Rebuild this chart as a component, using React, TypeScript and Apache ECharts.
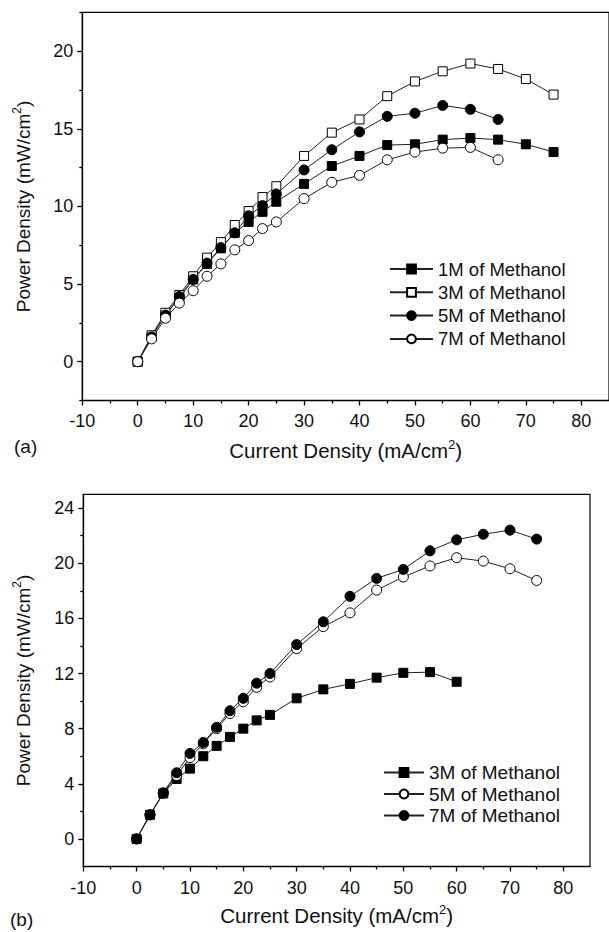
import React, { useEffect, useRef } from "react";
import * as echarts from "echarts";

// ---------- data ----------
const xMajorTicks = [-10, 0, 10, 20, 30, 40, 50, 60, 70, 80];
const xMinorTicks = [-5, 5, 15, 25, 35, 45, 55, 65, 75];
const yMajorTicksA = [0, 5, 10, 15, 20];
const yMinorTicksA = [-2.5, 2.5, 7.5, 12.5, 17.5, 22.5];
const yMajorTicksB = [0, 4, 8, 12, 16, 20, 24];
const yMinorTicksB = [2, 6, 10, 14, 18, 22];

const namesA = ["1M of Methanol", "3M of Methanol", "5M of Methanol", "7M of Methanol"];
const namesB = ["3M of Methanol", "5M of Methanol", "7M of Methanol"];

const a1M = [[0, 0], [2.5, 1.6], [5, 3.0], [7.5, 4.1], [10, 5.3], [12.5, 6.3], [15, 7.3], [17.5, 8.3], [20, 9.0], [22.5, 9.65], [25, 10.3], [30, 11.45], [35, 12.6], [40, 13.25], [45, 13.95], [50, 14.0], [55, 14.3], [60, 14.4], [65, 14.3], [70, 14.0], [75, 13.5]];
const a3M = [[0, 0], [2.5, 1.7], [5, 3.15], [7.5, 4.3], [10, 5.5], [12.5, 6.7], [15, 7.7], [17.5, 8.8], [20, 9.7], [22.5, 10.6], [25, 11.3], [30, 13.25], [35, 14.75], [40, 15.6], [45, 17.1], [50, 18.05], [55, 18.7], [60, 19.2], [65, 18.85], [70, 18.2], [75, 17.2]];
const a5M = [[0, 0], [2.5, 1.6], [5, 3.0], [7.5, 4.2], [10, 5.3], [12.5, 6.35], [15, 7.35], [17.5, 8.3], [20, 9.4], [22.5, 10.05], [25, 10.8], [30, 12.35], [35, 13.65], [40, 14.8], [45, 15.8], [50, 16.0], [55, 16.5], [60, 16.25], [65, 15.6]];
const a7M = [[0, 0], [2.5, 1.47], [5, 2.8], [7.5, 3.77], [10, 4.57], [12.5, 5.5], [15, 6.3], [17.5, 7.2], [20, 7.8], [22.5, 8.57], [25, 9.0], [30, 10.5], [35, 11.55], [40, 12.0], [45, 13.0], [50, 13.5], [55, 13.75], [60, 13.8], [65, 13.0]];

const b3M = [[0, 0], [2.5, 1.75], [5, 3.3], [7.5, 4.35], [10, 5.1], [12.5, 6.0], [15, 6.75], [17.5, 7.4], [20, 8.0], [22.5, 8.6], [25, 9.0], [30, 10.2], [35, 10.85], [40, 11.25], [45, 11.7], [50, 12.05], [55, 12.1], [60, 11.4]];
const b5M = [[0, 0], [2.5, 1.75], [5, 3.3], [7.5, 4.6], [10, 5.9], [12.5, 6.9], [15, 8.0], [17.5, 9.1], [20, 9.95], [22.5, 11.0], [25, 11.75], [30, 13.8], [35, 15.4], [40, 16.4], [45, 18.05], [50, 19.0], [55, 19.8], [60, 20.4], [65, 20.15], [70, 19.6], [75, 18.75]];
const b7M = [[0, 0], [2.5, 1.75], [5, 3.35], [7.5, 4.8], [10, 6.2], [12.5, 7.0], [15, 8.1], [17.5, 9.3], [20, 10.2], [22.5, 11.3], [25, 12.0], [30, 14.1], [35, 15.75], [40, 17.6], [45, 18.9], [50, 19.55], [55, 20.9], [60, 21.7], [65, 22.1], [70, 22.4], [75, 21.75]];

const xTitle = "{t|Current Density (mA/cm}{s|2}{t|)}";
const yTitle = "{t|Power Density (mW/cm}{s|2}{t|)}";

// ---------- styles ----------
const FONT = "Liberation Sans, Arial, Helvetica, sans-serif";
const INK = "#111";
function rich(size: number) {
  return {
    t: { fontSize: size, fontFamily: FONT, color: INK, lineHeight: size + 3, verticalAlign: "bottom" },
    s: { fontSize: Math.round(size * 0.63), fontFamily: FONT, color: INK, lineHeight: size + 3, verticalAlign: "top" },
  };
}

function mkSeries(name: string, data: number[][], shape: string, filled: boolean) {
  return {
    type: "line",
    name,
    data,
    symbol: shape === "square" ? "rect" : "circle",
    symbolSize: shape === "square" ? 9 : 10,
    showAllSymbol: true,
    lineStyle: { color: "#222", width: 1 },
    itemStyle: { color: filled ? "#000" : "#fff", borderColor: "#000", borderWidth: 1 },
    emphasis: { disabled: true },
    z: 3,
  };
}

function buildOption(cfg: any) {
  const baseX = { type: "value", gridIndex: 0, min: -10, max: 85, splitLine: { show: false } };
  const baseY = { type: "value", gridIndex: 0, min: cfg.yMin, max: cfg.yMax, splitLine: { show: false } };
  return {
    animation: false,
    backgroundColor: "#fff",
    grid: [{ ...cfg.grid, show: true, borderColor: "#000", borderWidth: 1.2, backgroundColor: "transparent" }],
    xAxis: [
      {
        ...baseX,
        position: "bottom",
        axisLine: { show: true, onZero: false, lineStyle: { color: "#000", width: 1.3 } },
        axisTick: { show: true, customValues: xMajorTicks, length: 5, lineStyle: { color: "#000", width: 1.3 } },
        axisLabel: { customValues: xMajorTicks, margin: cfg.xMargin, fontSize: 18, fontFamily: FONT, color: INK },
        name: xTitle,
        nameLocation: "middle",
        nameGap: cfg.xNameGap,
        nameTextStyle: { rich: rich(20.5) },
      },
      {
        ...baseX,
        position: "bottom",
        axisLine: { show: false, onZero: false },
        axisTick: { show: true, customValues: xMinorTicks, length: 3, lineStyle: { color: "#000", width: 1.3 } },
        axisLabel: { show: false },
      },
    ],
    yAxis: [
      {
        ...baseY,
        position: "left",
        axisLine: { show: true, onZero: false, lineStyle: { color: "#000", width: 1.3 } },
        axisTick: { show: true, customValues: cfg.yMajor, length: 5, lineStyle: { color: "#000", width: 1.3 } },
        axisLabel: { customValues: cfg.yMajor, margin: cfg.yMargin, fontSize: 18, fontFamily: FONT, color: INK },
        name: yTitle,
        nameLocation: "middle",
        nameGap: cfg.yNameGap,
        nameRotate: 90,
        nameTextStyle: { rich: rich(19) },
      },
      {
        ...baseY,
        position: "left",
        axisLine: { show: false, onZero: false },
        axisTick: { show: true, customValues: cfg.yMinor, length: 3, lineStyle: { color: "#000", width: 1.3 } },
        axisLabel: { show: false },
      },
    ],
    legend: {
      orient: "vertical",
      left: cfg.legend.left,
      top: cfg.legend.top,
      padding: 0,
      itemWidth: cfg.legend.itemWidth,
      itemHeight: 11,
      itemGap: cfg.legend.gap,
      selectedMode: false,
      data: cfg.names,
      textStyle: { fontSize: cfg.legend.fontSize, fontFamily: FONT, color: INK, lineHeight: 18 },
    },
    graphic: [
      {
        type: "text",
        left: cfg.tag.left,
        top: cfg.tag.top,
        style: { text: cfg.tag.text, fontSize: 19, fontFamily: FONT, fill: INK },
      },
    ],
    series: cfg.series,
  };
}

const optA = buildOption({
  grid: { left: 82.3, top: 12.3, width: 528.2, height: 388.7 },
  yMin: -2.5,
  yMax: 22.5,
  yMajor: yMajorTicksA,
  yMinor: yMinorTicksA,
  xMargin: 11,
  yMargin: 9,
  xNameGap: 37,
  yNameGap: 49,
  names: namesA,
  legend: { left: 389, top: 259.5, itemWidth: 43, gap: 4.3, fontSize: 18.5 },
  tag: { left: 14, top: 437, text: "(a)" },
  series: [
    mkSeries(namesA[0], a1M, "square", true),
    mkSeries(namesA[1], a3M, "square", false),
    mkSeries(namesA[2], a5M, "circle", true),
    mkSeries(namesA[3], a7M, "circle", false),
  ],
});

const optB = buildOption({
  grid: { left: 83.3, top: 28.3, width: 506.7, height: 372.2 },
  yMin: -2,
  yMax: 25,
  yMajor: yMajorTicksB,
  yMinor: yMinorTicksB,
  xMargin: 12,
  yMargin: 9,
  xNameGap: 36,
  yNameGap: 50,
  names: namesB,
  legend: { left: 383, top: 297, itemWidth: 40, gap: 2.5, fontSize: 19 },
  tag: { left: 10, top: 444, text: "(b)" },
  series: [
    mkSeries(namesB[0], b3M, "square", true),
    mkSeries(namesB[1], b5M, "circle", false),
    mkSeries(namesB[2], b7M, "circle", true),
  ],
});

function Chart({ option, top }: { option: any; top: number }) {
  const ref = useRef<HTMLDivElement>(null);
  useEffect(() => {
    if (!ref.current) return;
    const chart = echarts.init(ref.current, undefined, { renderer: "svg" });
    chart.setOption(option);
    return () => chart.dispose();
  }, [option]);
  return (
    <div
      ref={ref}
      style={{ position: "absolute", left: 0, top, width: 609, height: 466, overflow: "hidden" }}
    />
  );
}

export default function App() {
  return (
    <div style={{ position: "absolute", left: 0, top: 0, width: 609, height: 932, background: "#fff", overflow: "hidden" }}>
      <Chart option={optA} top={0} />
      <Chart option={optB} top={466} />
    </div>
  );
}
